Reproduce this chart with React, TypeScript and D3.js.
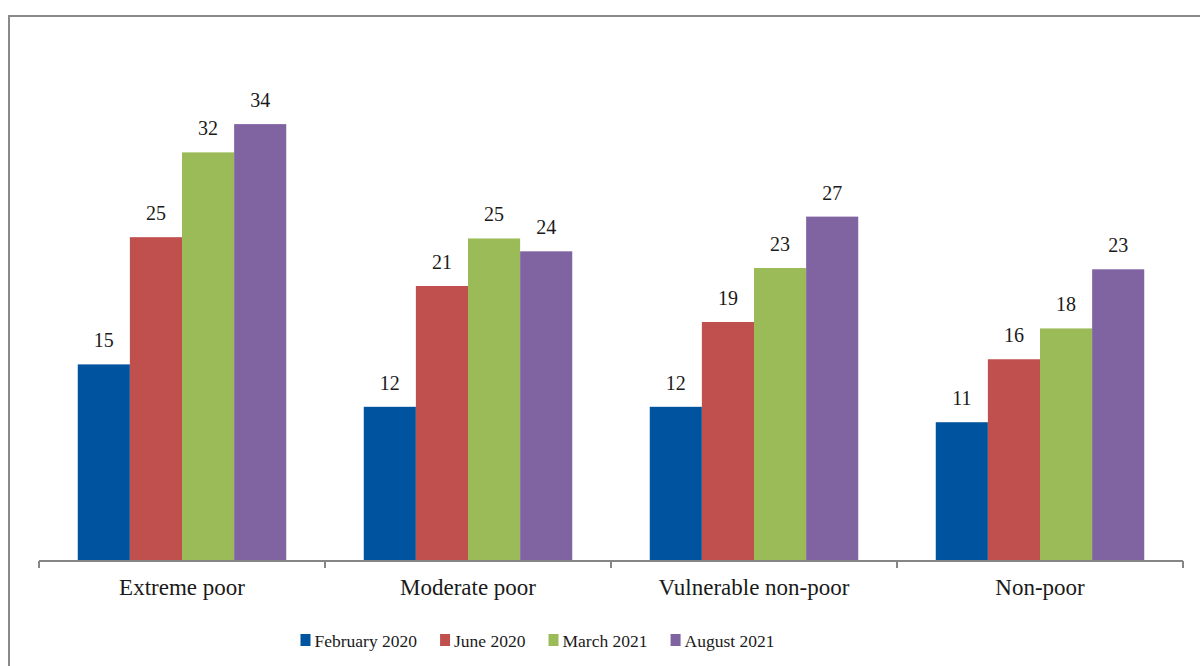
import React, { useEffect, useRef } from "react";
import * as d3 from "d3";

const categories = ["Extreme poor", "Moderate poor", "Vulnerable non-poor", "Non-poor"];
const seriesNames = ["February 2020", "June 2020", "March 2021", "August 2021"];
const feb2020 = [15.3, 12.0, 12.0, 10.8];
const jun2020 = [25.2, 21.4, 18.6, 15.7];
const mar2021 = [31.8, 25.1, 22.8, 18.1];
const aug2021 = [34.0, 24.1, 26.8, 22.7];
const seriesValues = [feb2020, jun2020, mar2021, aug2021];
const seriesColors = ["#00549F", "#C0504D", "#9BBB59", "#8064A2"];

const W = 1200;
const H = 666;
const FONT = '"Liberation Serif", "Times New Roman", "DejaVu Serif", serif';

export default function App() {
  const ref = useRef<SVGSVGElement | null>(null);

  useEffect(() => {
    const svg = d3.select(ref.current);
    svg.selectAll("*").remove();

    svg
      .append("rect")
      .attr("x", 9)
      .attr("y", 16)
      .attr("width", W + 20)
      .attr("height", H + 20)
      .attr("fill", "white")
      .attr("stroke", "#8a8a8a")
      .attr("stroke-width", 2);

    const x0 = d3
      .scaleBand<string>()
      .domain(categories)
      .range([39, 1183])
      .paddingInner(0.271)
      .paddingOuter(0.1355);
    const x1 = d3
      .scaleBand<string>()
      .domain(seriesNames)
      .range([0, x0.bandwidth()]);
    const y = d3.scaleLinear().domain([0, 40]).range([561, 47]);

    const rows = categories.map((c, ci) => ({
      cat: c,
      vals: seriesNames.map((s, si) => ({ s, si, v: seriesValues[si][ci] })),
    }));

    const g = svg
      .selectAll("g.cat")
      .data(rows)
      .enter()
      .append("g")
      .attr("class", "cat")
      .attr("transform", (d) => `translate(${x0(d.cat)},0)`);

    g.selectAll("rect")
      .data((d) => d.vals)
      .enter()
      .append("rect")
      .attr("x", (d) => x1(d.s)!)
      .attr("y", (d) => y(d.v))
      .attr("width", x1.bandwidth())
      .attr("height", (d) => y(0) - y(d.v))
      .attr("fill", (d) => seriesColors[d.si]);

    g.selectAll("text.val")
      .data((d) => d.vals)
      .enter()
      .append("text")
      .attr("class", "val")
      .attr("x", (d) => x1(d.s)! + x1.bandwidth() / 2)
      .attr("y", (d) => y(d.v) - 17)
      .attr("text-anchor", "middle")
      .style("font-family", FONT)
      .style("font-size", "20px")
      .attr("fill", "#1a1a1a")
      .text((d) => d3.format(".0f")(d.v));

    const axisG = svg.append("g");
    axisG
      .append("line")
      .attr("x1", 39)
      .attr("x2", 1183)
      .attr("y1", y(0))
      .attr("y2", y(0))
      .attr("stroke", "#868686")
      .attr("stroke-width", 2);
    const step = x0.step();
    const tickXs = d3.range(categories.length + 1).map((i) => 39 + i * step);
    axisG
      .selectAll("line.tick")
      .data(tickXs)
      .enter()
      .append("line")
      .attr("class", "tick")
      .attr("x1", (d) => d)
      .attr("x2", (d) => d)
      .attr("y1", y(0))
      .attr("y2", y(0) + 7)
      .attr("stroke", "#868686")
      .attr("stroke-width", 2);
    axisG
      .selectAll("text.cat")
      .data(categories)
      .enter()
      .append("text")
      .attr("class", "cat")
      .attr("x", (d) => x0(d)! + x0.bandwidth() / 2)
      .attr("y", 595)
      .attr("text-anchor", "middle")
      .style("font-family", FONT)
      .style("font-size", "23px")
      .attr("fill", "#1a1a1a")
      .text((d) => d);

    const legend = svg.append("g");
    const items = legend
      .selectAll("g.item")
      .data(seriesNames)
      .enter()
      .append("g")
      .attr("class", "item");
    items
      .append("rect")
      .attr("x", 0)
      .attr("y", -13)
      .attr("width", 10)
      .attr("height", 12)
      .attr("fill", (_d, i) => seriesColors[i]);
    const texts = items
      .append("text")
      .attr("x", 14)
      .attr("y", 0)
      .style("font-family", FONT)
      .style("font-size", "17.5px")
      .attr("fill", "#1a1a1a")
      .text((d) => d);
    const widths: number[] = [];
    texts.each(function () {
      widths.push((this as SVGTextElement).getComputedTextLength());
    });
    const gap = 23;
    const itemW = widths.map((w) => 14 + w);
    const total = d3.sum(itemW) + gap * (itemW.length - 1);
    let cx = 537.5 - total / 2;
    const starts: number[] = [];
    itemW.forEach((w) => {
      starts.push(cx);
      cx += w + gap;
    });
    items.attr("transform", (_d, i) => `translate(${starts[i]},647)`);
  }, []);

  return (
    <svg
      ref={ref}
      width={W}
      height={H}
      style={{ position: "absolute", left: 0, top: 0, background: "white" }}
    />
  );
}
